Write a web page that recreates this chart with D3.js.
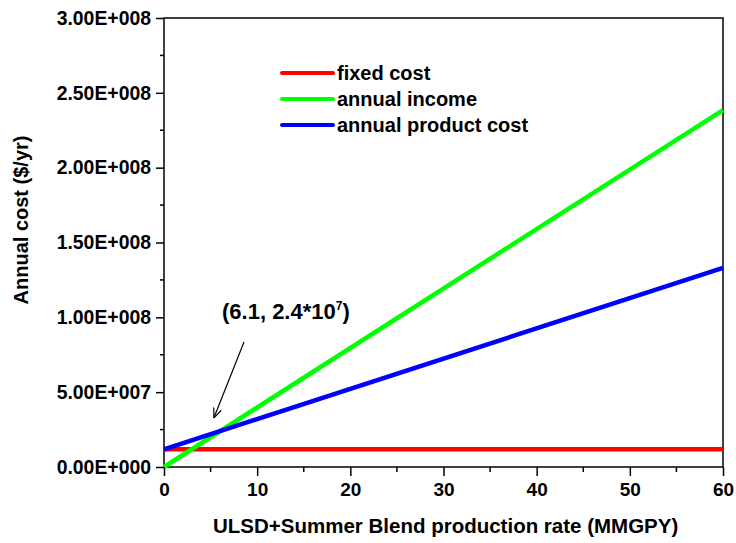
<!DOCTYPE html>
<html>
<head>
<meta charset="utf-8">
<script src="https://cdn.jsdelivr.net/npm/d3@7"></script>
<style>
  html, body { margin: 0; padding: 0; background: #fff; }
  svg { display: block; font-family: Arial, "Liberation Sans", sans-serif; font-weight: bold; }
</style>
</head>
<body>
<svg id="chart" width="736" height="543"></svg>
<script>
// Production rate (MMGPY) at the two ends of each straight line
const rates = [0, 60];
const fixedCost = [1.18e7, 1.18e7];
const annualIncome = [0, 2.385e8];
const annualProductCost = [1.18e7, 1.33e8];

const seriesNames = ["fixed cost", "annual income", "annual product cost"];
const seriesColors = ["#ff0000", "#00ff00", "#0000ff"];

const xTicks = [0, 10, 20, 30, 40, 50, 60];
const yTicks = [0, 5e7, 1e8, 1.5e8, 2e8, 2.5e8, 3e8];
const yTickLabels = ["0.00E+000", "5.00E+007", "1.00E+008", "1.50E+008", "2.00E+008", "2.50E+008", "3.00E+008"];

const breakEven = { x: 6.1, y: 2.4e7 };

const svg = d3.select("#chart");
const m = { left: 164, right: 723, top: 18, bottom: 467 };

const x = d3.scaleLinear().domain([0, 60]).range([m.left, m.right]);
const y = d3.scaleLinear().domain([0, 3e8]).range([m.bottom, m.top]);

// frame
svg.append("rect")
  .attr("x", m.left).attr("y", m.top)
  .attr("width", m.right - m.left).attr("height", m.bottom - m.top)
  .attr("fill", "none").attr("stroke", "#000").attr("stroke-width", 1.5);

// minor ticks
const xMinor = d3.range(5, 60, 10);
const yMinor = d3.range(2.5e7, 3e8, 5e7);
svg.append("g").selectAll("line").data(xMinor).join("line")
  .attr("x1", d => x(d)).attr("x2", d => x(d))
  .attr("y1", m.bottom).attr("y2", m.bottom + 5)
  .attr("stroke", "#000").attr("stroke-width", 1.5);
svg.append("g").selectAll("line").data(yMinor).join("line")
  .attr("x1", m.left - 4).attr("x2", m.left)
  .attr("y1", d => y(d)).attr("y2", d => y(d))
  .attr("stroke", "#000").attr("stroke-width", 1.5);

// axes
const xAxis = svg.append("g")
  .attr("transform", `translate(0,${m.bottom})`)
  .call(d3.axisBottom(x).tickValues(xTicks).tickSize(9).tickPadding(7).tickFormat(d3.format("d")));
const yAxis = svg.append("g")
  .attr("transform", `translate(${m.left},0)`)
  .call(d3.axisLeft(y).tickValues(yTicks).tickSize(8).tickPadding(5)
    .tickFormat((d, i) => yTickLabels[i]));

[xAxis, yAxis].forEach(g => {
  g.select(".domain").remove();
  g.selectAll(".tick line").attr("stroke", "#000").attr("stroke-width", 1.5);
  g.selectAll(".tick text").attr("fill", "#000")
    .style("font-size", "19px").style("font-weight", "bold")
    .style("font-family", "Arial, 'Liberation Sans', sans-serif");
});
yAxis.selectAll(".tick text").style("font-size", "19.4px");

// lines
const seriesValues = [fixedCost, annualIncome, annualProductCost];
const line = d3.line().x(d => x(d[0])).y(d => y(d[1]));
const plot = svg.append("g");
seriesValues.forEach((vals, i) => {
  plot.append("path")
    .datum(rates.map((r, j) => [r, vals[j]]))
    .attr("d", line)
    .attr("fill", "none")
    .attr("stroke", seriesColors[i])
    .attr("stroke-width", 4.5);
});

// legend
const legend = svg.append("g");
seriesNames.forEach((name, i) => {
  const ly = 73 + i * 26;
  legend.append("line")
    .attr("x1", 282).attr("x2", 333).attr("y1", ly).attr("y2", ly)
    .attr("stroke", seriesColors[i]).attr("stroke-width", 4)
    .attr("stroke-linecap", "round");
  legend.append("text")
    .attr("x", 337).attr("y", ly + 7)
    .style("font-size", "20px").text(name);
});

// break-even annotation
const ann = svg.append("g");
const label = ann.append("text")
  .attr("x", 222).attr("y", 319)
  .style("font-size", "22px");
label.append("tspan").text("(6.1, 2.4*10");
label.append("tspan").attr("dy", -9).style("font-size", "12px").text("7");
label.append("tspan").attr("dy", 9).text(")");

svg.append("defs").append("marker")
  .attr("id", "arrowhead").attr("viewBox", "0 0 10 10")
  .attr("refX", 10).attr("refY", 5)
  .attr("markerWidth", 10).attr("markerHeight", 10)
  .attr("markerUnits", "userSpaceOnUse")
  .attr("orient", "auto")
  .append("path").attr("d", "M0,1 L10,5 L0,9").attr("fill", "none")
  .attr("stroke", "#000").attr("stroke-width", 1.2);

ann.append("line")
  .attr("x1", 244).attr("y1", 342)
  .attr("x2", x(breakEven.x) - 7).attr("y2", y(breakEven.y) - 13)
  .attr("stroke", "#000").attr("stroke-width", 1.2)
  .attr("marker-end", "url(#arrowhead)");

// axis titles
svg.append("text")
  .attr("x", 213).attr("y", 533)
  .style("font-size", "20.5px")
  .text("ULSD+Summer Blend production rate (MMGPY)");

svg.append("text")
  .attr("transform", "translate(28,220) rotate(-90)")
  .attr("text-anchor", "middle")
  .style("font-size", "20px")
  .text("Annual cost ($/yr)");
</script>
</body>
</html>
